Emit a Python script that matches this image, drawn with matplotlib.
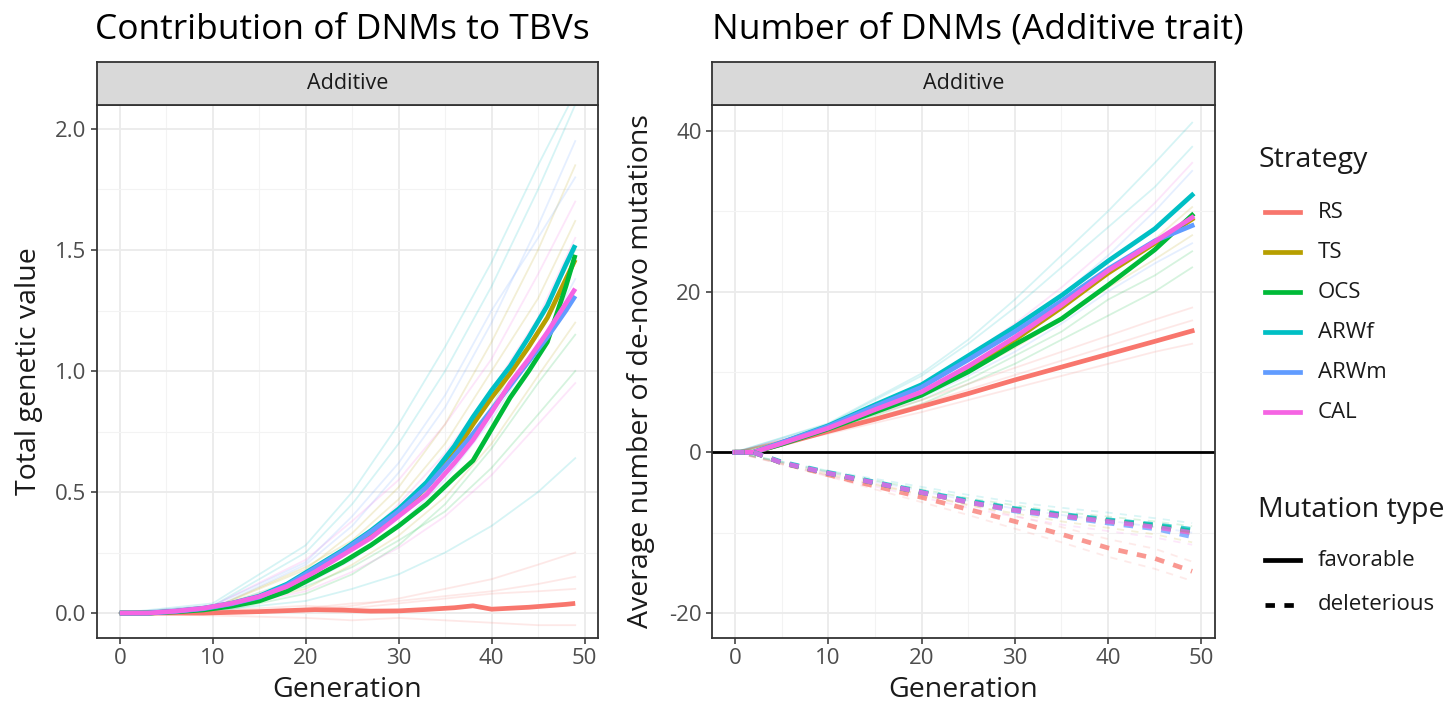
import matplotlib
matplotlib.use("Agg")
import matplotlib.pyplot as plt
from matplotlib.lines import Line2D

plt.rcParams['font.family'] = ['Open Sans', 'DejaVu Sans']

W, H = 1456, 706

# ---------------- data ----------------
strategies = ["RS", "TS", "OCS", "ARWf", "ARWm", "CAL"]
colors = ["#F8766D", "#B79F00", "#00BA38", "#00BFC4", "#619CFF", "#F564E3"]

# Left panel: total genetic value of DNMs (means)
gen_left = [0, 3, 6, 9, 12, 15, 18, 21, 24, 27, 30, 33, 36, 38, 40, 42, 44, 46, 48, 49]
tgv_RS   = [0, 0, 0.0, 0.0, 0.003, 0.006, 0.01, 0.014, 0.012, 0.008, 0.009, 0.015, 0.022, 0.03, 0.016, 0.02, 0.024, 0.03, 0.036, 0.04]
tgv_TS   = [0, 0, 0.007, 0.018, 0.037, 0.065, 0.11, 0.175, 0.245, 0.325, 0.41, 0.52, 0.66, 0.78, 0.89, 0.99, 1.10, 1.22, 1.38, 1.46]
tgv_OCS  = [0, 0, 0.005, 0.013, 0.028, 0.05, 0.09, 0.15, 0.21, 0.28, 0.36, 0.45, 0.56, 0.63, 0.76, 0.89, 1.00, 1.12, 1.35, 1.48]
tgv_ARWf = [0, 0, 0.008, 0.02, 0.04, 0.07, 0.12, 0.19, 0.26, 0.34, 0.43, 0.54, 0.69, 0.81, 0.92, 1.02, 1.14, 1.27, 1.44, 1.52]
tgv_ARWm = [0, 0, 0.007, 0.018, 0.038, 0.066, 0.115, 0.185, 0.255, 0.335, 0.42, 0.52, 0.65, 0.74, 0.84, 0.94, 1.04, 1.14, 1.25, 1.31]
tgv_CAL  = [0, 0, 0.008, 0.02, 0.04, 0.068, 0.11, 0.17, 0.24, 0.31, 0.40, 0.49, 0.62, 0.715, 0.83, 0.95, 1.05, 1.16, 1.28, 1.34]
tgv_means = [tgv_RS, tgv_TS, tgv_OCS, tgv_ARWf, tgv_ARWm, tgv_CAL]

# Left panel: individual replicates (faint)
gen_rep = [0, 10, 20, 25, 30, 35, 40, 45, 49]
rep_left_strategy = ["ARWf", "ARWm", "TS", "OCS", "CAL", "ARWf", "TS", "OCS", "ARWm", "CAL",
                     "ARWf", "OCS", "TS", "CAL", "ARWm", "RS", "RS", "RS", "RS"]
rep_left = [
    [0, 0.03, 0.25, 0.45, 0.70, 1.00, 1.35, 1.75, 2.10],
    [0, 0.02, 0.20, 0.36, 0.58, 0.85, 1.20, 1.60, 1.95],
    [0, 0.01, 0.10, 0.20, 0.32, 0.48, 0.70, 0.98, 1.20],
    [0, 0.02, 0.15, 0.26, 0.40, 0.60, 0.85, 1.20, 1.50],
    [0, 0.03, 0.22, 0.38, 0.55, 0.78, 1.05, 1.40, 1.70],
    [0, 0.01, 0.05, 0.10, 0.16, 0.25, 0.36, 0.50, 0.64],
    [0, 0.02, 0.18, 0.33, 0.52, 0.78, 1.12, 1.50, 1.85],
    [0, 0.00, 0.08, 0.16, 0.28, 0.45, 0.68, 0.95, 1.15],
    [0, 0.01, 0.12, 0.22, 0.36, 0.55, 0.80, 1.10, 1.38],
    [0, 0.02, 0.14, 0.26, 0.45, 0.66, 0.92, 1.22, 1.55],
    [0, 0.04, 0.28, 0.50, 0.78, 1.10, 1.45, 1.85, 2.15],
    [0, 0.01, 0.11, 0.19, 0.30, 0.42, 0.60, 0.82, 1.00],
    [0, 0.02, 0.19, 0.30, 0.47, 0.70, 1.00, 1.30, 1.62],
    [0, 0.01, 0.09, 0.17, 0.27, 0.40, 0.57, 0.78, 0.95],
    [0, 0.03, 0.21, 0.40, 0.62, 0.90, 1.25, 1.55, 1.80],
    [0, 0.00, 0.02, 0.04, 0.05, 0.07, 0.09, 0.12, 0.15],
    [0, -0.01, -0.02, -0.03, -0.02, -0.03, -0.04, -0.05, -0.05],
    [0, 0.01, 0.03, 0.02, 0.04, 0.06, 0.08, 0.09, 0.10],
    [0, 0.00, 0.01, 0.03, 0.06, 0.10, 0.14, 0.20, 0.25],
]

# Right panel: average number of DNMs (means)
gen_right = [0, 2, 5, 10, 15, 20, 25, 30, 35, 40, 45, 49]
fav_RS   = [0, 0, 1.0, 2.6, 4.1, 5.7, 7.3, 9.0, 10.6, 12.2, 13.8, 15.1]
fav_TS   = [0, 0, 1.1, 3.0, 5.2, 7.4, 10.5, 14.0, 18.0, 22.3, 26.0, 29.0]
fav_OCS  = [0, 0, 1.0, 2.9, 5.0, 7.1, 10.0, 13.4, 16.6, 20.8, 25.2, 29.5]
fav_ARWf = [0, 0, 1.2, 3.3, 5.9, 8.4, 12.0, 15.6, 19.5, 23.8, 27.8, 32.0]
fav_ARWm = [0, 0, 1.2, 3.2, 5.7, 8.1, 11.5, 15.0, 18.8, 22.8, 26.3, 28.2]
fav_CAL  = [0, 0, 1.1, 3.0, 5.3, 7.5, 10.7, 14.3, 18.3, 22.6, 26.2, 29.2]
fav_means = [fav_RS, fav_TS, fav_OCS, fav_ARWf, fav_ARWm, fav_CAL]

del_RS   = [0, 0, -1.3, -2.8, -4.2, -5.6, -7.1, -8.6, -10.2, -11.9, -13.2, -14.8]
del_TS   = [0, 0, -1.3, -2.6, -3.8, -5.0, -6.2, -7.2, -7.9, -8.6, -9.2, -10.0]
del_OCS  = [0, 0, -1.3, -2.6, -3.8, -5.0, -6.1, -7.1, -7.8, -8.5, -9.1, -9.8]
del_ARWf = [0, 0, -1.2, -2.5, -3.7, -4.9, -6.0, -7.0, -7.7, -8.4, -9.0, -9.6]
del_ARWm = [0, 0, -1.3, -2.6, -3.8, -5.0, -6.2, -7.3, -8.0, -8.8, -9.5, -10.5]
del_CAL  = [0, 0, -1.3, -2.6, -3.8, -5.0, -6.2, -7.2, -7.9, -8.6, -9.3, -10.0]
del_means = [del_RS, del_TS, del_OCS, del_ARWf, del_ARWm, del_CAL]

# Right panel replicates (faint)
rep_fav_strategy = ["ARWf", "ARWm", "OCS", "TS", "CAL", "OCS", "ARWf", "TS", "ARWm", "RS", "RS", "RS"]
rep_fav = [
    [0, 3.5, 9.5, 13.5, 18.0, 23.0, 28.0, 33.0, 38.0],
    [0, 3.0, 8.0, 11.5, 15.0, 19.5, 24.5, 30.0, 35.0],
    [0, 2.6, 6.5, 9.0, 12.0, 15.0, 19.0, 22.0, 25.0],
    [0, 2.8, 7.0, 10.0, 13.0, 16.5, 20.5, 24.0, 27.0],
    [0, 3.2, 8.5, 12.0, 16.0, 20.5, 25.5, 31.0, 36.0],
    [0, 2.5, 6.0, 8.5, 11.0, 14.0, 17.0, 20.0, 23.0],
    [0, 3.6, 9.8, 14.0, 19.0, 24.5, 30.0, 36.0, 41.0],
    [0, 2.9, 7.5, 10.5, 14.5, 18.5, 22.0, 26.5, 30.5],
    [0, 2.7, 6.8, 9.5, 12.5, 16.0, 20.0, 23.5, 26.0],
    [0, 2.9, 6.5, 8.5, 10.5, 12.5, 14.5, 16.5, 18.0],
    [0, 2.3, 5.0, 6.5, 8.0, 9.5, 11.0, 12.5, 13.5],
    [0, 2.7, 6.0, 7.8, 9.6, 11.4, 13.2, 15.0, 16.4],
]
rep_del_strategy = ["ARWf", "CAL", "RS", "RS", "ARWm", "TS", "OCS"]
rep_del = [
    [0, -2.3, -4.3, -5.3, -6.2, -6.9, -7.5, -8.2, -8.8],
    [0, -2.9, -5.6, -6.9, -8.0, -9.0, -9.8, -10.6, -11.5],
    [0, -3.0, -6.2, -7.8, -9.5, -11.2, -13.0, -14.5, -16.0],
    [0, -2.6, -5.2, -6.5, -7.9, -9.3, -10.8, -12.0, -13.6],
    [0, -2.5, -4.8, -6.0, -7.0, -7.8, -8.5, -9.3, -10.0],
    [0, -2.8, -5.3, -6.6, -7.6, -8.6, -9.4, -10.2, -11.2],
    [0, -2.4, -4.6, -5.7, -6.6, -7.4, -8.0, -8.6, -9.2],
]

mut_types = ["favorable", "deleterious"]

left_yticks = [0.0, 0.5, 1.0, 1.5, 2.0]
right_yticks = [-20, 0, 20, 40]
xticks = [0, 10, 20, 30, 40, 50]

col_of = dict(zip(strategies, colors))

# ---------------- figure ----------------
fig = plt.figure(figsize=(W / 100, H / 100), dpi=100)
fig.patch.set_facecolor("white")


def box(x0, y0, x1, y1):
    return [x0 / W, 1 - y1 / H, (x1 - x0) / W, (y1 - y0) / H]


TXT = "#1A1A1A"
TICKC = "#4D4D4D"
FRAME = "#333333"
TICK_FS = 16
AXT_FS = 20.5
TITLE_FS = 25.5


def style_axes(ax, yt, ylim, minor_y, fmt):
    ax.set_xlim(-2.45, 51.45)
    ax.set_ylim(*ylim)
    ax.set_xticks(xticks)
    ax.set_xticks([5, 15, 25, 35, 45], minor=True)
    ax.set_yticks(yt)
    ax.set_yticks(minor_y, minor=True)
    ax.set_yticklabels([fmt(v) for v in yt])
    ax.grid(which="major", color="#EBEBEB", lw=1.3, zorder=0)
    ax.grid(which="minor", color="#F3F3F3", lw=0.8, zorder=0)
    ax.set_axisbelow(True)
    ax.tick_params(which="major", length=4.5, width=1.1, color=FRAME,
                   labelcolor=TICKC, labelsize=TICK_FS, pad=3)
    ax.tick_params(which="minor", length=0)
    for s in ax.spines.values():
        s.set_color(FRAME)
        s.set_linewidth(1.3)


def strip(x0, x1):
    sa = fig.add_axes(box(x0, 62, x1, 105))
    sa.set_facecolor("#D9D9D9")
    sa.set_xticks([])
    sa.set_yticks([])
    for s in sa.spines.values():
        s.set_color(FRAME)
        s.set_linewidth(1.3)
    sa.text(0.5, 0.5, "Additive", ha="center", va="center", fontsize=15.5, color=TXT,
            transform=sa.transAxes)


# Left panel
axL = fig.add_axes(box(97, 105, 598, 638))
style_axes(axL, left_yticks, (-0.103, 2.099), [0.25, 0.75, 1.25, 1.75], lambda v: f"{v:.1f}")
for s, ys in zip(rep_left_strategy, rep_left):
    axL.plot(gen_rep, ys, color=col_of[s], lw=1.3, alpha=0.16, zorder=2)
for s, ys in zip(strategies, tgv_means):
    axL.plot(gen_left, ys, color=col_of[s], lw=3.4, zorder=3, solid_capstyle="butt")
strip(97, 598)

# Right panel
axR = fig.add_axes(box(712, 105, 1215, 638))
style_axes(axR, right_yticks, (-23.1, 43.2), [-10, 10, 30], lambda v: f"{v:d}")
axR.axhline(0, color="black", lw=2.0, zorder=2.5)
for s, ys in zip(rep_fav_strategy, rep_fav):
    axR.plot(gen_rep, ys, color=col_of[s], lw=1.3, alpha=0.16, zorder=2)
for s, ys in zip(rep_del_strategy, rep_del):
    axR.plot(gen_rep, ys, color=col_of[s], lw=1.3, alpha=0.15, zorder=2, ls=(0, (4, 4)))
for s, ys in zip(strategies, fav_means):
    axR.plot(gen_right, ys, color=col_of[s], lw=3.4, zorder=3)
for s, ys in zip(strategies, del_means):
    axR.plot(gen_right, ys, color=col_of[s], lw=3.4, zorder=3, alpha=0.75,
             dashes=(2.0, 2.0), solid_capstyle="butt")
strip(712, 1215)

# Titles and axis labels
fig.text(95 / W, 1 - 39 / H, "Contribution of DNMs to TBVs", fontsize=TITLE_FS, color="black",
         ha="left", va="baseline")
fig.text(712 / W, 1 - 39 / H, "Number of DNMs (Additive trait)", fontsize=TITLE_FS, color="black",
         ha="left", va="baseline")
fig.text(347 / W, 1 - 690 / H, "Generation", fontsize=AXT_FS, color=TXT, ha="center", va="center")
fig.text(963 / W, 1 - 690 / H, "Generation", fontsize=AXT_FS, color=TXT, ha="center", va="center")
fig.text(29 / W, 1 - 371 / H, "Total genetic value", fontsize=AXT_FS, color=TXT, ha="center",
         va="center", rotation=90)
fig.text(641 / W, 1 - 371 / H, "Average number of de-novo mutations", fontsize=AXT_FS, color=TXT,
         ha="center", va="center", rotation=90)

# Legend (drawn in a pixel-coordinate axes)
lg = fig.add_axes([0, 0, 1, 1], facecolor="none")
lg.set_xlim(0, W)
lg.set_ylim(H, 0)
lg.axis("off")
lg.text(1258, 160, "Strategy", fontsize=AXT_FS, color=TXT, ha="left", va="center")
item_y = [212, 252, 292, 332, 372, 412]
for s, c, y in zip(strategies, colors, item_y):
    lg.add_line(Line2D([1265, 1300], [y, y], color=c, lw=3.4))
    lg.text(1318, y, s, fontsize=TICK_FS, color=TXT, ha="left", va="center")
lg.text(1258, 510, "Mutation type", fontsize=AXT_FS, color=TXT, ha="left", va="center")
for mt, y, st in zip(mut_types, [560, 605], ["-", "--"]):
    if st == "-":
        lg.add_line(Line2D([1265, 1300], [y, y], color="black", lw=3.4))
    else:
        lg.add_line(Line2D([1265, 1300], [y, y], color="black", lw=3.4, dashes=(2.0, 2.0),
                           solid_capstyle="butt"))
    lg.text(1318, y, mt, fontsize=TICK_FS, color=TXT, ha="left", va="center")

fig.savefig("out.png", dpi=100)
